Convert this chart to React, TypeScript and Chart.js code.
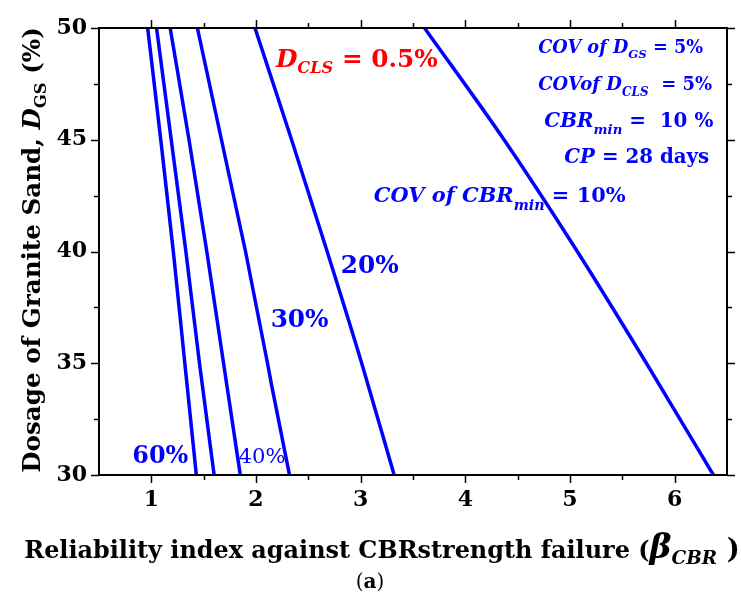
import React, { useEffect, useRef } from "react";
import { Chart, registerables } from "chart.js";

Chart.register(...registerables);

// ---------------- data ----------------
const dosageLevels = [50, 45, 40, 35, 30];
const dosageLevels30 = [50, 45, 40, 35, 34, 30];

const beta60 = [0.965, 1.09, 1.21, 1.32, 1.43];
const beta50 = [1.05, 1.19, 1.33, 1.46, 1.6];
const beta40 = [1.18, 1.36, 1.53, 1.69, 1.85];
const beta30 = [1.44, 1.67, 1.9, 2.11, 2.15, 2.32];
const beta20 = [1.99, 2.34, 2.68, 3.01, 3.32];
const beta10 = [3.61, 4.37, 5.07, 5.73, 6.37];

const seriesNames = ["COV 60%", "COV 50%", "COV 40%", "COV 30%", "COV 20%", "COV 10%"];

const xTickValues = [1, 2, 3, 4, 5, 6];
const yTickValues = [30, 35, 40, 45, 50];
const xMinorValues = [1.5, 2.5, 3.5, 4.5, 5.5];
const yMinorValues = [32.5, 37.5, 42.5, 47.5];

// ---------------- styling ----------------
const FAMILY = '"DejaVu Serif", "Liberation Serif", serif';
const BLUE = "#0000ff";
const RED = "#ff0000";

type Seg = { t: string; s: number; it?: boolean; nb?: boolean; dy?: number };

type Note = {
  bx: number; // beta coordinate (left edge)
  d: number; // dosage coordinate (baseline)
  w?: number; // target width in px
  color: string;
  segs: Seg[];
};

const notes: Note[] = [
  { bx: 2.19, d: 48.27, w: 162, color: RED, segs: [{ t: "D", s: 26, it: true }, { t: "CLS", s: 17, it: true, dy: 7 }, { t: " = 0.5%", s: 26 }] },
  { bx: 4.697, d: 48.88, w: 165, color: BLUE, segs: [{ t: "COV of D", s: 18, it: true }, { t: "GS", s: 12, it: true, dy: 5 }, { t: " = 5%", s: 18 }] },
  { bx: 4.697, d: 47.23, w: 174, color: BLUE, segs: [{ t: "COVof D", s: 18, it: true }, { t: "CLS", s: 12, it: true, dy: 6 }, { t: "  = 5%", s: 18 }] },
  { bx: 4.755, d: 45.57, w: 169, color: BLUE, segs: [{ t: "CBR", s: 24, it: true }, { t: "min", s: 16, it: true, dy: 8 }, { t: " =  10 %", s: 24 }] },
  { bx: 4.946, d: 43.96, w: 145, color: BLUE, segs: [{ t: "CP", s: 24, it: true }, { t: " = 28 days", s: 24 }] },
  { bx: 3.126, d: 42.21, w: 252, color: BLUE, segs: [{ t: "COV of CBR", s: 22, it: true }, { t: "min", s: 15, it: true, dy: 8 }, { t: " = 10%", s: 22 }] },
  { bx: 2.81, d: 39.04, w: 58, color: BLUE, segs: [{ t: "20%", s: 26 }] },
  { bx: 2.14, d: 36.62, w: 58, color: BLUE, segs: [{ t: "30%", s: 26 }] },
  { bx: 0.818, d: 30.54, w: 56, color: BLUE, segs: [{ t: "60%", s: 26 }] },
  { bx: 1.833, d: 30.54, w: 47, color: BLUE, segs: [{ t: "40%", s: 22, nb: true }] },
];

function fontOf(seg: Seg, k: number) {
  return `${seg.it ? "italic " : ""}${seg.nb ? "normal" : "bold"} ${seg.s * k}px ${FAMILY}`;
}

function measureSegs(ctx: CanvasRenderingContext2D, segs: Seg[], k: number) {
  let w = 0;
  for (const sg of segs) {
    ctx.font = fontOf(sg, k);
    w += ctx.measureText(sg.t).width;
  }
  return w;
}

function drawRich(
  ctx: CanvasRenderingContext2D,
  segs: Seg[],
  x: number,
  y: number,
  align: "left" | "center",
  color: string,
  targetW?: number
) {
  let k = 1;
  if (targetW) k = targetW / measureSegs(ctx, segs, 1);
  const total = measureSegs(ctx, segs, k);
  let cx = align === "center" ? x - total / 2 : x;
  ctx.fillStyle = color;
  ctx.textAlign = "left";
  ctx.textBaseline = "alphabetic";
  for (const sg of segs) {
    ctx.font = fontOf(sg, k);
    ctx.fillText(sg.t, cx, y + (sg.dy || 0) * k);
    cx += ctx.measureText(sg.t).width;
  }
}

const xTitle: Seg[] = [
  { t: "Reliability index against CBRstrength failure (", s: 26 },
  { t: "β", s: 36, it: true },
  { t: "CBR", s: 20, it: true, dy: 7 },
  { t: " )", s: 30 },
];
const yTitle: Seg[] = [
  { t: "Dosage of Granite Sand, ", s: 24 },
  { t: "D", s: 24, it: true },
  { t: "GS", s: 16, dy: 6 },
  { t: " (%)", s: 24 },
];
const caption: Seg[] = [
  { t: "(", s: 20, nb: true },
  { t: "a", s: 20 },
  { t: ")", s: 20, nb: true },
];

const decorPlugin = {
  id: "decor",
  beforeDatasetsDraw(chart: any) {
    const ctx = chart.ctx as CanvasRenderingContext2D;
    const xs = chart.scales.x;
    const ys = chart.scales.y;
    ctx.save();
    for (const n of notes) {
      drawRich(ctx, n.segs, xs.getPixelForValue(n.bx), ys.getPixelForValue(n.d), "left", n.color, n.w);
    }
    ctx.restore();
  },
  afterDraw(chart: any) {
    const ctx = chart.ctx as CanvasRenderingContext2D;
    const { left, right, top, bottom } = chart.chartArea;
    const xs = chart.scales.x;
    const ys = chart.scales.y;
    ctx.save();
    ctx.strokeStyle = "#000";
    ctx.lineWidth = 2;
    ctx.beginPath();
    ctx.rect(left, top, right - left, bottom - top);
    ctx.stroke();
    const MAJ = 8;
    const MIN = 5;
    ctx.lineWidth = 1.5;
    ctx.beginPath();
    const xt = (v: number, len: number) => {
      const p = Math.round(xs.getPixelForValue(v)) + 0.5;
      ctx.moveTo(p, bottom);
      ctx.lineTo(p, bottom + len);
      ctx.moveTo(p, top);
      ctx.lineTo(p, top - len);
    };
    const yt = (v: number, len: number) => {
      const p = Math.round(ys.getPixelForValue(v)) + 0.5;
      ctx.moveTo(left, p);
      ctx.lineTo(left - len, p);
      ctx.moveTo(right, p);
      ctx.lineTo(right + len, p);
    };
    xTickValues.forEach((v) => xt(v, MAJ));
    xMinorValues.forEach((v) => xt(v, MIN));
    yTickValues.forEach((v) => yt(v, MAJ));
    yMinorValues.forEach((v) => yt(v, MIN));
    ctx.stroke();

    // axis titles
    drawRich(ctx, xTitle, 382, 558, "center", "#000", 716);
    ctx.save();
    ctx.translate(40, 250);
    ctx.rotate(-Math.PI / 2);
    drawRich(ctx, yTitle, 0, 0, "center", "#000", 446);
    ctx.restore();
    drawRich(ctx, caption, 370, 588, "center", "#000");
    ctx.restore();
  },
};

function toPoints(betas: number[], dos: number[]) {
  return betas.map((b, i) => ({ x: b, y: dos[i] }));
}

export default function App() {
  const ref = useRef<HTMLCanvasElement | null>(null);
  useEffect(() => {
    if (!ref.current) return;
    const series = [
      toPoints(beta60, dosageLevels),
      toPoints(beta50, dosageLevels),
      toPoints(beta40, dosageLevels),
      toPoints(beta30, dosageLevels30),
      toPoints(beta20, dosageLevels),
      toPoints(beta10, dosageLevels),
    ];
    const chart = new Chart(ref.current, {
      type: "line",
      data: {
        datasets: series.map((pts, i) => ({
          label: seriesNames[i],
          data: pts,
          borderColor: BLUE,
          backgroundColor: BLUE,
          borderWidth: 3.5,
          pointRadius: 0,
          tension: 0,
          cubicInterpolationMode: i === 3 ? "default" : "monotone",
          fill: false,
        })),
      },
      options: {
        responsive: false,
        animation: false,
        layout: { padding: { left: 0, top: 28, right: 14, bottom: 0 } },
        plugins: { legend: { display: false }, tooltip: { enabled: false } },
        scales: {
          x: {
            type: "linear",
            min: 0.5,
            max: 6.5,
            afterBuildTicks: (s: any) => {
              s.ticks = xTickValues.map((v) => ({ value: v }));
            },
            afterFit: (s: any) => {
              s.height = 124;
            },
            grid: { display: false, drawTicks: false },
            border: { display: false },
            ticks: {
              autoSkip: false,
              maxRotation: 0,
              padding: 12,
              color: "#000",
              font: { family: FAMILY, size: 22, weight: "bold" },
            },
          },
          y: {
            type: "linear",
            min: 30,
            max: 50,
            afterBuildTicks: (s: any) => {
              s.ticks = yTickValues.map((v) => ({ value: v }));
            },
            afterFit: (s: any) => {
              s.width = 99;
            },
            grid: { display: false, drawTicks: false },
            border: { display: false },
            ticks: {
              autoSkip: false,
              padding: 12,
              color: "#000",
              font: { family: FAMILY, size: 22, weight: "bold" },
            },
          },
        },
      },
      plugins: [decorPlugin],
    } as any);
    return () => chart.destroy();
  }, []);
  return (
    <div style={{ position: "absolute", left: 0, top: 0, width: 741, height: 599, background: "#fff" }}>
      <canvas ref={ref} width={741} height={599} style={{ display: "block", width: 741, height: 599 }} />
    </div>
  );
}
